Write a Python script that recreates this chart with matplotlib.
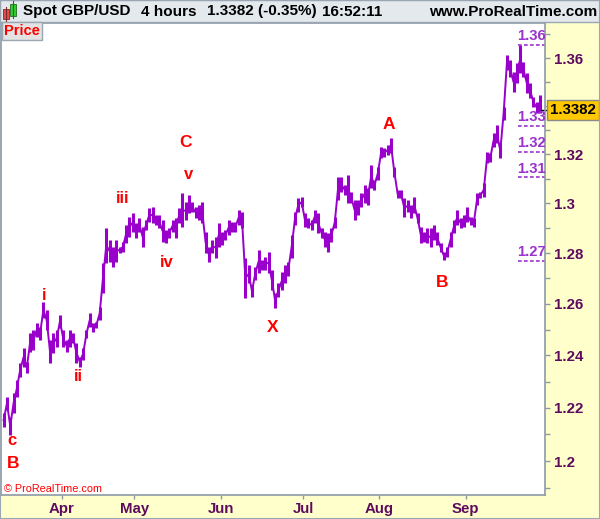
import numpy as np
import matplotlib.pyplot as plt
from matplotlib.patches import Rectangle
from matplotlib.ticker import FixedLocator, FixedFormatter, NullFormatter
from matplotlib.transforms import blended_transform_factory

plt.rcParams['font.family'] = ['Liberation Sans', 'DejaVu Sans']

# GBP/USD 4h, price range per bar group
highs = [1.2180, 1.2242, 1.2165, 1.2257, 1.2306, 1.2371, 1.2429, 1.2375, 1.2487, 1.2498,
         1.2525, 1.2510, 1.2607, 1.2576, 1.2460, 1.2487, 1.2498, 1.2556, 1.2498, 1.2460,
         1.2498, 1.2487, 1.2448, 1.2395, 1.2429, 1.2498, 1.2564, 1.2525, 1.2529, 1.2588,
         1.2761, 1.2901, 1.2853, 1.2825, 1.2853, 1.2825, 1.2845, 1.2913, 1.2945, 1.2961,
         1.2921, 1.2941, 1.2905, 1.2933, 1.2981, 1.2985, 1.2953, 1.2953, 1.2933, 1.2893,
         1.2901, 1.2933, 1.2941, 1.2981, 1.3042, 1.3005, 1.3034, 1.3005, 1.2985, 1.2993,
         1.3005, 1.2885, 1.2825, 1.2853, 1.2865, 1.2921, 1.2885, 1.2893, 1.2933, 1.2925,
         1.2925, 1.2973, 1.2965, 1.2781, 1.2753, 1.2674, 1.2745, 1.2813, 1.2773, 1.2785,
         1.2805, 1.2733, 1.2642, 1.2682, 1.2725, 1.2753, 1.2765, 1.2873, 1.2965, 1.3021,
         1.3025, 1.2961, 1.2941, 1.2933, 1.2973, 1.2961, 1.2901, 1.2885, 1.2881, 1.2901,
         1.2945, 1.3106, 1.3106, 1.3075, 1.3115, 1.3046, 1.3013, 1.3013, 1.3042, 1.3075,
         1.3062, 1.3156, 1.3094, 1.3147, 1.3229, 1.3225, 1.3238, 1.3266, 1.3147, 1.3054,
         1.3054, 1.3021, 1.3013, 1.2993, 1.3025, 1.2961, 1.2905, 1.2885, 1.2901, 1.2901,
         1.2913, 1.2885, 1.2841, 1.2805, 1.2825, 1.2885, 1.2933, 1.2973, 1.2941, 1.2953,
         1.2985, 1.2945, 1.2941, 1.3042, 1.3046, 1.3083, 1.3209, 1.3205, 1.3287, 1.3320,
         1.3246, 1.3395, 1.3612, 1.3591, 1.3541, 1.3579, 1.3654, 1.3583, 1.3537, 1.3495,
         1.3436, 1.3416, 1.3444]
lows = [1.2127, 1.2192, 1.2098, 1.2180, 1.2242, 1.2318, 1.2356, 1.2333, 1.2414, 1.2421,
        1.2472, 1.2460, 1.2545, 1.2498, 1.2371, 1.2410, 1.2433, 1.2506, 1.2433, 1.2414,
        1.2433, 1.2448, 1.2371, 1.2356, 1.2383, 1.2468, 1.2510, 1.2491, 1.2506, 1.2537,
        1.2642, 1.2761, 1.2765, 1.2745, 1.2765, 1.2801, 1.2805, 1.2841, 1.2865, 1.2885,
        1.2861, 1.2885, 1.2825, 1.2893, 1.2925, 1.2921, 1.2913, 1.2901, 1.2845, 1.2841,
        1.2861, 1.2885, 1.2861, 1.2921, 1.2905, 1.2933, 1.2961, 1.2965, 1.2941, 1.2933,
        1.2921, 1.2801, 1.2765, 1.2801, 1.2781, 1.2825, 1.2833, 1.2853, 1.2873, 1.2885,
        1.2885, 1.2913, 1.2901, 1.2623, 1.2682, 1.2627, 1.2694, 1.2721, 1.2733, 1.2733,
        1.2721, 1.2655, 1.2584, 1.2627, 1.2655, 1.2682, 1.2710, 1.2781, 1.2913, 1.2965,
        1.2985, 1.2905, 1.2901, 1.2893, 1.2921, 1.2881, 1.2861, 1.2825, 1.2805, 1.2845,
        1.2901, 1.3013, 1.3046, 1.3034, 1.3001, 1.3001, 1.2933, 1.2953, 1.2985, 1.3001,
        1.2993, 1.3062, 1.3054, 1.3094, 1.3184, 1.3188, 1.3197, 1.3205, 1.3106, 1.3021,
        1.3021, 1.2945, 1.2965, 1.2941, 1.2961, 1.2921, 1.2841, 1.2845, 1.2841, 1.2825,
        1.2853, 1.2833, 1.2805, 1.2773, 1.2785, 1.2825, 1.2881, 1.2913, 1.2901, 1.2905,
        1.2925, 1.2913, 1.2905, 1.2993, 1.3021, 1.3025, 1.3164, 1.3168, 1.3229, 1.3246,
        1.3184, 1.3340, 1.3549, 1.3520, 1.3457, 1.3495, 1.3537, 1.3520, 1.3453, 1.3432,
        1.3395, 1.3370, 1.3370]

month_names = ['Apr', 'May', 'Jun', 'Jul', 'Aug', 'Sep']
month_starts = [18, 40, 66, 91, 114, 140]

price_ticks = [1.20, 1.22, 1.24, 1.26, 1.28, 1.30, 1.32, 1.34, 1.36]
price_minor = [1.19, 1.21, 1.23, 1.25, 1.27, 1.29, 1.31, 1.33, 1.35, 1.37]

levels = [1.3657, 1.3316, 1.3209, 1.3106, 1.2769]
level_labels = ['1.36', '1.33', '1.32', '1.31', '1.27']

last_price = 1.3382

# Elliott wave labels: text, bar index, price
wave_text = ['B', 'c', 'i', 'ii', 'iii', 'iv', 'v', 'C', 'X', 'A', 'B']
wave_bar = [2.8, 2.5, 12.2, 22.5, 35.8, 49.3, 55.7, 54.8, 81.1, 116.4, 132.4]
wave_price = [1.1992, 1.2075, 1.2634, 1.2318, 1.3021, 1.2765, 1.3115, 1.3250, 1.2510, 1.3324, 1.2686]

W, H = 600, 519
purple = '#9900CC'
axis_txt = '#5E0A5E'
grey = '#8C9AA6'

fig = plt.figure(figsize=(W / 100, H / 100), dpi=100, facecolor='#FFFFCC')
ax = fig.add_axes([1 / W, 24 / H, 544 / W, 472 / H])
ax.set_facecolor('white')

x = np.arange(len(highs))
hi = np.array(highs)
lo = np.array(lows)
ax.vlines(x, lo, hi, colors=purple, linewidth=2.2)
ax.plot(x, (hi + lo) / 2, color=purple, linewidth=1.4)

ax.set_yscale('log')
ax.set_ylim(1.1874, 1.3749)
ax.set_xlim(-0.8, 163.5)

# the 1.34 label sits behind the last-price tag, so it is left blank
tick_text = [f'{v:g}' for v in price_ticks]
tick_text[price_ticks.index(1.34)] = ''
ax.yaxis.tick_right()
ax.yaxis.set_major_locator(FixedLocator(price_ticks))
ax.yaxis.set_major_formatter(FixedFormatter(tick_text))
ax.yaxis.set_minor_locator(FixedLocator(price_minor))
ax.yaxis.set_minor_formatter(NullFormatter())
ax.tick_params(axis='y', which='both', direction='out', length=3.6, width=1,
               color=grey, labelcolor=axis_txt, labelsize=10.8, pad=3)
for t in ax.get_yticklabels():
    t.set_fontweight('bold')

ax.set_xticks([m - 0.5 for m in month_starts])
ax.set_xticklabels(month_names, fontweight='bold')
ax.tick_params(axis='x', direction='out', length=3, width=1, color=grey,
               labelcolor=axis_txt, labelsize=10.8, pad=2)

for s in ax.spines.values():
    s.set_color(grey)
    s.set_linewidth(1.2)

# support / resistance levels on the right
bt = blended_transform_factory(ax.transAxes, ax.transData)
for lv, lab in zip(levels, level_labels):
    ax.plot([0.951, 1.0], [lv, lv], transform=bt, color='#9933CC', lw=1.2,
            linestyle=(0, (2.2, 1.4)), clip_on=False)
    ax.annotate(lab, (1.002, lv), xycoords=bt, xytext=(0, 1.2), textcoords='offset points',
                ha='right', va='bottom', color='#9933CC', fontsize=10.6, fontweight='bold',
                annotation_clip=False)

# wave counts
for t, b, p in zip(wave_text, wave_bar, wave_price):
    size = 12.5 if t.isupper() else 12
    ax.text(b, p, t, color='#FF0000', fontsize=size, fontweight='bold', ha='center', va='center')

# last price marker
ax.plot([0.993, 1.009], [last_price, last_price], transform=bt, color='black', lw=1, clip_on=False)
ax.text(1.0515, last_price, f'{last_price:.4f}', transform=bt, ha='center', va='center',
        fontsize=10.8, fontweight='bold', color='black', zorder=10,
        bbox=dict(boxstyle='square,pad=0.18', facecolor='#FFC800', edgecolor='#8A8A8A', lw=1))

# header bar
def fx(px):
    return px / W

def fy(py):
    return 1 - py / H

fig.add_artist(Rectangle((0, fy(22)), 1, 22 / H, transform=fig.transFigure,
                         facecolor='#E4E9EE', edgecolor='#9AA6B2', lw=1))
# small candle icon
fig.add_artist(Rectangle((fx(3), fy(19)), 6 / W, 10 / H, transform=fig.transFigure,
                         facecolor='#E84B4B', edgecolor='#7A2A2A', lw=0.6))
fig.add_artist(Rectangle((fx(10), fy(16)), 6 / W, 12 / H, transform=fig.transFigure,
                         facecolor='#33CC33', edgecolor='#1F6E1F', lw=0.6))
fig.add_artist(plt.Line2D([fx(6), fx(6)], [fy(21), fy(7)], transform=fig.transFigure,
                          color='#7A2A2A', lw=0.8))
fig.add_artist(plt.Line2D([fx(13), fx(13)], [fy(18), fy(1)], transform=fig.transFigure,
                          color='#1F6E1F', lw=0.8))

hdr = dict(fontsize=11, fontweight='bold', color='black', va='center')
fig.text(fx(23), fy(11.5), 'Spot GBP/USD', **hdr)
fig.text(fx(141), fy(11.5), '4 hours', **hdr)
fig.text(fx(207), fy(11.5), '1.3382 (-0.35%)', **hdr)
fig.text(fx(322), fy(11.5), '16:52:11', **hdr)
fig.text(fx(597), fy(11.5), 'www.ProRealTime.com', ha='right', fontsize=11,
         fontweight='bold', color='black', va='center')

# "Price" tag and copyright
fig.text(fx(4), fy(31), 'Price', color='#FF0000', fontsize=10.5, fontweight='bold', va='center',
         bbox=dict(boxstyle='square,pad=0.15', facecolor='#E3E3E3', edgecolor='#9AA6B2', lw=1))
fig.text(fx(4), fy(489), '\u00a9 ProRealTime.com', color='#FF0000', fontsize=7.8, va='center')

# outer frame
fig.add_artist(Rectangle((0, 0), 1, 1, transform=fig.transFigure, fill=False,
                         edgecolor='#9AA6B2', lw=1.5))

fig.savefig('out.png', dpi=100, facecolor=fig.get_facecolor())
